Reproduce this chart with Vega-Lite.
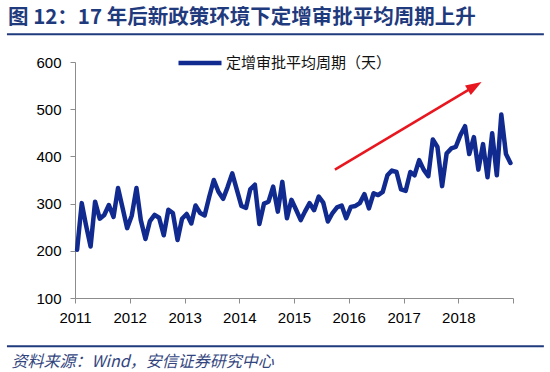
{
  "$schema": "https://vega.github.io/schema/vega-lite/v6.json",
  "autosize": {"type": "none"},
  "width": 438,
  "height": 236,
  "padding": {"left": 75, "top": 62, "right": 37, "bottom": 74},
  "background": "white",
  "title": {
    "text": "图 12：17 年后新政策环境下定增审批平均周期上升",
    "anchor": "start",
    "frame": "group",
    "dx": -67,
    "offset": 5,
    "font": "Noto Sans CJK SC",
    "fontSize": 20.5,
    "fontWeight": "bold",
    "color": "#1F3A7D"
  },
  "config": {"view": {"stroke": null}},
  "datasets": {
    "approval": [
      {"date": "2011-01-15", "days": 202}, {"date": "2011-02-15", "days": 301}, {"date": "2011-03-15", "days": 255}, {"date": "2011-04-15", "days": 209},
      {"date": "2011-05-15", "days": 304}, {"date": "2011-06-15", "days": 268}, {"date": "2011-07-15", "days": 276}, {"date": "2011-08-15", "days": 297},
      {"date": "2011-09-15", "days": 272}, {"date": "2011-10-15", "days": 333}, {"date": "2011-11-15", "days": 290}, {"date": "2011-12-15", "days": 248},
      {"date": "2012-01-15", "days": 275}, {"date": "2012-02-15", "days": 333}, {"date": "2012-03-15", "days": 265}, {"date": "2012-04-15", "days": 225},
      {"date": "2012-05-15", "days": 263}, {"date": "2012-06-15", "days": 276}, {"date": "2012-07-15", "days": 270}, {"date": "2012-08-15", "days": 233},
      {"date": "2012-09-15", "days": 287}, {"date": "2012-10-15", "days": 280}, {"date": "2012-11-15", "days": 223}, {"date": "2012-12-15", "days": 268},
      {"date": "2013-01-15", "days": 278}, {"date": "2013-02-15", "days": 258}, {"date": "2013-03-15", "days": 296}, {"date": "2013-04-15", "days": 280},
      {"date": "2013-05-15", "days": 275}, {"date": "2013-06-15", "days": 315}, {"date": "2013-07-15", "days": 350}, {"date": "2013-08-15", "days": 325},
      {"date": "2013-09-15", "days": 310}, {"date": "2013-10-15", "days": 335}, {"date": "2013-11-15", "days": 364}, {"date": "2013-12-15", "days": 330},
      {"date": "2014-01-15", "days": 295}, {"date": "2014-02-15", "days": 291}, {"date": "2014-03-15", "days": 330}, {"date": "2014-04-15", "days": 340},
      {"date": "2014-05-15", "days": 257}, {"date": "2014-06-15", "days": 300}, {"date": "2014-07-15", "days": 304}, {"date": "2014-08-15", "days": 336},
      {"date": "2014-09-15", "days": 283}, {"date": "2014-10-15", "days": 346}, {"date": "2014-11-15", "days": 269}, {"date": "2014-12-15", "days": 308},
      {"date": "2015-01-15", "days": 287}, {"date": "2015-02-15", "days": 265}, {"date": "2015-03-15", "days": 283}, {"date": "2015-04-15", "days": 301},
      {"date": "2015-05-15", "days": 286}, {"date": "2015-06-15", "days": 315}, {"date": "2015-07-15", "days": 302}, {"date": "2015-08-15", "days": 262},
      {"date": "2015-09-15", "days": 280}, {"date": "2015-10-15", "days": 292}, {"date": "2015-11-15", "days": 296}, {"date": "2015-12-15", "days": 269},
      {"date": "2016-01-15", "days": 293}, {"date": "2016-02-15", "days": 295}, {"date": "2016-03-15", "days": 301}, {"date": "2016-04-15", "days": 320},
      {"date": "2016-05-15", "days": 290}, {"date": "2016-06-15", "days": 322}, {"date": "2016-07-15", "days": 318}, {"date": "2016-08-15", "days": 325},
      {"date": "2016-09-15", "days": 360}, {"date": "2016-10-15", "days": 370}, {"date": "2016-11-15", "days": 367}, {"date": "2016-12-15", "days": 330},
      {"date": "2017-01-15", "days": 327}, {"date": "2017-02-15", "days": 367}, {"date": "2017-03-15", "days": 360}, {"date": "2017-04-15", "days": 392},
      {"date": "2017-05-15", "days": 372}, {"date": "2017-06-15", "days": 358}, {"date": "2017-07-15", "days": 436}, {"date": "2017-08-15", "days": 420},
      {"date": "2017-09-15", "days": 337}, {"date": "2017-10-15", "days": 406}, {"date": "2017-11-15", "days": 417}, {"date": "2017-12-15", "days": 420},
      {"date": "2018-01-15", "days": 445}, {"date": "2018-02-15", "days": 464}, {"date": "2018-03-15", "days": 405}, {"date": "2018-04-15", "days": 441},
      {"date": "2018-05-15", "days": 372}, {"date": "2018-06-15", "days": 426}, {"date": "2018-07-15", "days": 356}, {"date": "2018-08-15", "days": 449},
      {"date": "2018-09-15", "days": 360}, {"date": "2018-10-15", "days": 489}, {"date": "2018-11-15", "days": 405}, {"date": "2018-12-15", "days": 386}
    ]
  },
  "layer": [
    {
      "data": {"name": "approval"},
      "mark": {"type": "line", "strokeWidth": 4.5, "strokeJoin": "round", "strokeCap": "round"},
      "encoding": {
        "x": {
          "field": "date",
          "type": "temporal",
          "scale": {"domain": [{"year": 2011, "month": 1, "date": 1}, {"year": 2019, "month": 1, "date": 1}]},
          "axis": {
            "values": [
              {"year": 2011, "month": 1, "date": 1}, {"year": 2012, "month": 1, "date": 1}, {"year": 2013, "month": 1, "date": 1},
              {"year": 2014, "month": 1, "date": 1}, {"year": 2015, "month": 1, "date": 1}, {"year": 2016, "month": 1, "date": 1},
              {"year": 2017, "month": 1, "date": 1}, {"year": 2018, "month": 1, "date": 1}, {"year": 2019, "month": 1, "date": 1}
            ],
            "labelExpr": "year(datum.value) >= 2019 ? '' : timeFormat(datum.value, '%Y')",
            "labelFlush": false,
            "labelOverlap": false,
            "labelFont": "Liberation Sans",
            "labelFontSize": 15,
            "labelColor": "#000000",
            "labelPadding": 7,
            "tickSize": 5,
            "tickColor": "#8C8C8C",
            "domainColor": "#8C8C8C",
            "grid": false,
            "title": "资料来源：Wind，安信证券研究中心",
            "titleX": -64,
            "titleY": 63,
            "titleAlign": "left",
            "titleAnchor": "start",
            "titleBaseline": "middle",
            "titleFont": "Noto Sans CJK SC",
            "titleFontSize": 16,
            "titleFontStyle": "italic",
            "titleFontWeight": "normal",
            "titleColor": "#33457E"
          }
        },
        "y": {
          "field": "days",
          "type": "quantitative",
          "scale": {"domain": [100, 600], "nice": false, "zero": false},
          "axis": {
            "values": [100, 200, 300, 400, 500, 600],
            "labelFont": "Liberation Sans",
            "labelFontSize": 15,
            "labelColor": "#000000",
            "labelPadding": 9,
            "tickSize": 5,
            "tickColor": "#8C8C8C",
            "domainColor": "#8C8C8C",
            "grid": false,
            "title": null
          }
        },
        "color": {
          "datum": "定增审批平均周期（天）",
          "scale": {"range": ["#102A8F"]},
          "legend": {
            "orient": "none",
            "legendX": 101,
            "legendY": -23,
            "title": null,
            "padding": 0,
            "symbolType": "stroke",
            "symbolSize": 1849,
            "symbolStrokeWidth": 4.5,
            "labelFont": "Noto Sans CJK SC",
            "labelFontSize": 15,
            "labelColor": "#111111",
            "labelOffset": 2,
            "labelLimit": 400
          }
        }
      }
    },
    {
      "data": {"values": [{}]},
      "mark": {"type": "rule", "color": "#E8161E", "strokeWidth": 2.5},
      "encoding": {
        "x": {"datum": {"year": 2015, "month": 10, "date": 1}, "type": "temporal"},
        "y": {"datum": 372, "type": "quantitative"},
        "x2": {"datum": {"year": 2018, "month": 4, "date": 21}},
        "y2": {"datum": 549}
      }
    },
    {
      "data": {"values": [{}]},
      "mark": {"type": "point", "shape": "M-1,-0.7L1,0L-1,0.7Z", "angle": 329, "size": 256, "filled": true, "color": "#E8161E", "opacity": 1},
      "encoding": {
        "x": {"datum": {"year": 2018, "month": 4, "date": 21}, "type": "temporal"},
        "y": {"datum": 549, "type": "quantitative"}
      }
    },
    {
      "data": {"values": [{}]},
      "mark": {"type": "rule", "color": "#1F3A7D", "strokeWidth": 2},
      "encoding": {
        "x": {"datum": {"year": 2009, "month": 10, "date": 4}, "type": "temporal"},
        "x2": {"datum": {"year": 2019, "month": 7, "date": 26}},
        "y": {"datum": 659, "type": "quantitative"}
      }
    },
    {
      "data": {"values": [{}]},
      "mark": {"type": "rule", "color": "#1F3A7D", "strokeWidth": 2},
      "encoding": {
        "x": {"datum": {"year": 2009, "month": 10, "date": 4}, "type": "temporal"},
        "x2": {"datum": {"year": 2019, "month": 7, "date": 26}},
        "y": {"datum": -2, "type": "quantitative"}
      }
    }
  ]
}
